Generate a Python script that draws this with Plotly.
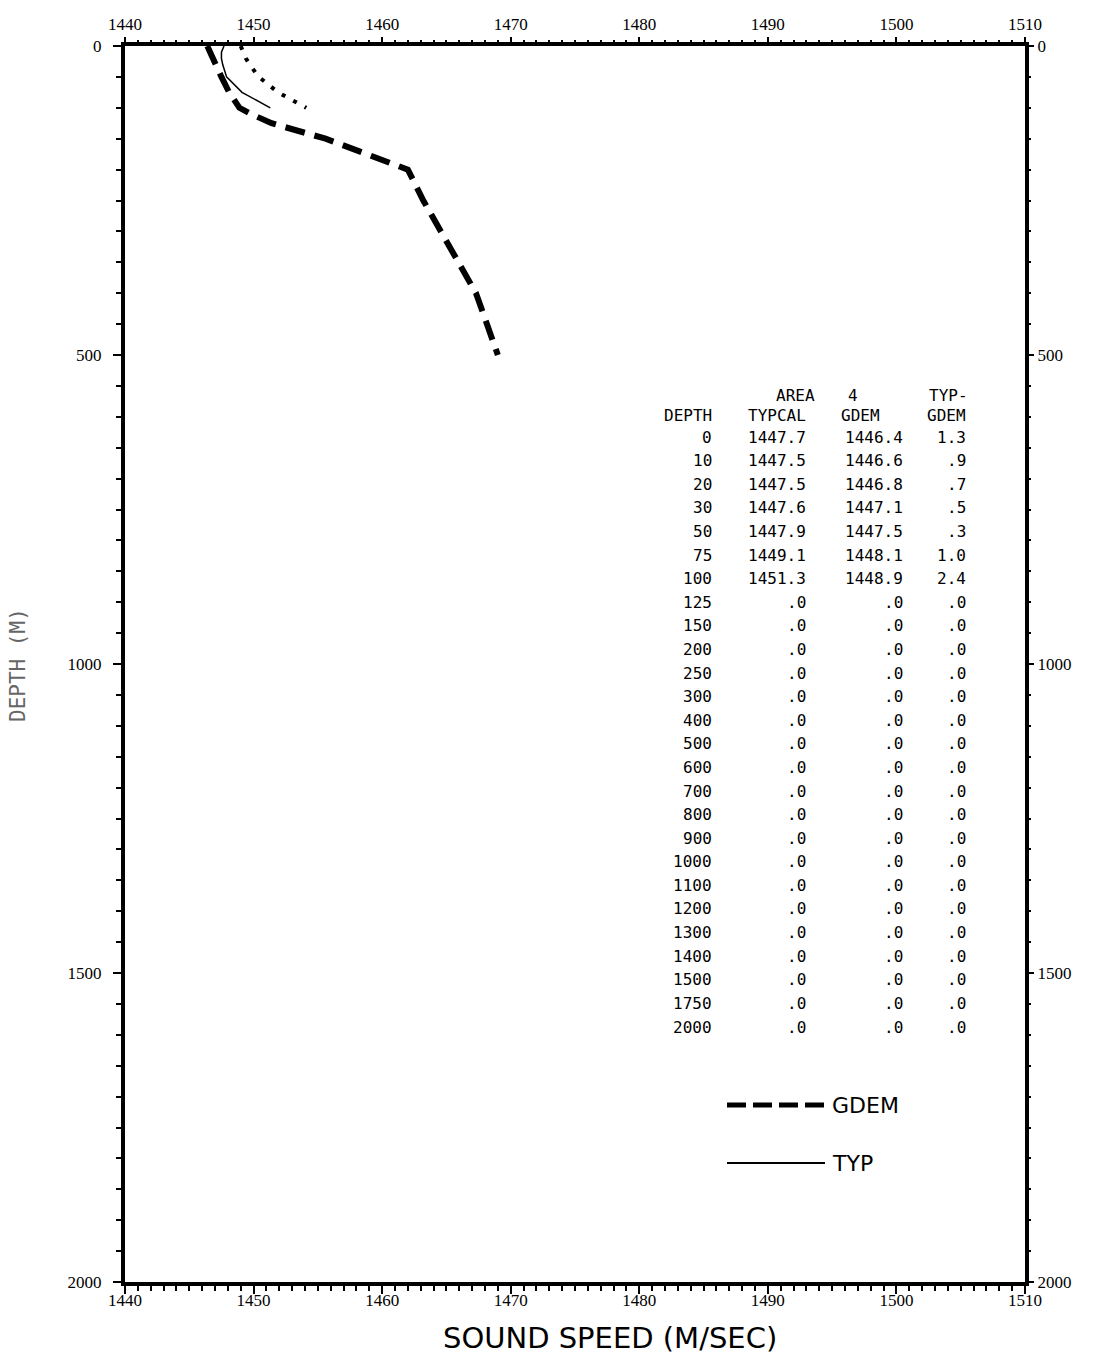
import plotly.graph_objects as go

# ---- profile data: depth (m) vs sound speed (m/s) ----
typ_depth = [0, 10, 20, 30, 50, 75, 100]
typ_speed = [1447.7, 1447.5, 1447.5, 1447.6, 1447.9, 1449.1, 1451.3]

gdem_depth = [0, 10, 20, 30, 50, 75, 100, 110, 125, 150, 200, 250, 300, 400, 500]
gdem_speed = [1446.4, 1446.6, 1446.8, 1447.1, 1447.5, 1448.1, 1448.9, 1449.8,
              1451.4, 1455.6, 1462.0, 1463.2, 1464.6, 1467.3, 1469.0]

dot_depth = [0, 10, 20, 30, 50, 75, 100]
dot_speed = [1449.0, 1449.2, 1449.4, 1449.7, 1450.4, 1451.9, 1454.1]

# ---- tabulated values ----
table_depth = [0, 10, 20, 30, 50, 75, 100, 125, 150, 200, 250, 300, 400, 500,
               600, 700, 800, 900, 1000, 1100, 1200, 1300, 1400, 1500, 1750, 2000]
table_typ = [1447.7, 1447.5, 1447.5, 1447.6, 1447.9, 1449.1, 1451.3] + [0.0] * 19
table_gdem = [1446.4, 1446.6, 1446.8, 1447.1, 1447.5, 1448.1, 1448.9] + [0.0] * 19
table_diff = [1.3, 0.9, 0.7, 0.5, 0.3, 1.0, 2.4] + [0.0] * 19

x_ticks = [1440, 1450, 1460, 1470, 1480, 1490, 1500, 1510]
y_ticks = [0, 500, 1000, 1500, 2000]

W, H = 1094, 1356
ML, MR, MT, MB = 125, 69, 46, 74
PW, PH = W - ML - MR, H - MT - MB


def px(xpix):
    return (xpix - ML) / PW


def py(ypix):
    return 1 - (ypix - MT) / PH


def fmt(v):
    s = f"{v:.1f}"
    return s[1:] if s.startswith("0") else s


fig = go.Figure()

fig.add_trace(go.Scatter(
    x=gdem_speed, y=gdem_depth, mode="lines", name="GDEM",
    line=dict(color="black", width=6, dash="20px,10px"),
    showlegend=False, hoverinfo="skip"))
fig.add_trace(go.Scatter(
    x=typ_speed, y=typ_depth, mode="lines", name="TYP",
    line=dict(color="black", width=1.5),
    showlegend=False, hoverinfo="skip"))
fig.add_trace(go.Scatter(
    x=dot_speed, y=dot_depth, mode="lines", name="dotted",
    line=dict(color="black", width=4, dash="4px,9px"),
    showlegend=False, hoverinfo="skip"))
# companion trace so the top/right axes are drawn
fig.add_trace(go.Scatter(
    x=gdem_speed, y=gdem_depth, xaxis="x2", yaxis="y2", mode="lines",
    line=dict(color="rgba(0,0,0,0)", width=0),
    showlegend=False, hoverinfo="skip"))

tickfont = dict(family="Liberation Serif", size=17, color="black")
common_x = dict(range=[1440, 1510], tickvals=x_ticks, ticks="outside",
                ticklen=8, tickwidth=2, tickcolor="black", tickfont=tickfont,
                showgrid=False, zeroline=False,
                minor=dict(dtick=1, ticks="outside", ticklen=5, tickwidth=1.5,
                           tickcolor="black", showgrid=False))
common_y = dict(range=[2000, 0], tickvals=y_ticks, ticks="outside",
                ticklen=8, tickwidth=2, tickcolor="black", tickfont=tickfont,
                showgrid=False, zeroline=False,
                minor=dict(dtick=50, ticks="outside", ticklen=5, tickwidth=1.5,
                           tickcolor="black", showgrid=False))

fig.update_layout(
    width=W, height=H,
    margin=dict(l=ML, r=MR, t=MT, b=MB),
    paper_bgcolor="white", plot_bgcolor="white",
    xaxis=dict(**common_x, showline=True, linewidth=4, linecolor="black",
               mirror=True, side="bottom", ticklabelstandoff=-8),
    yaxis=dict(**common_y, showline=True, linewidth=4, linecolor="black",
               mirror=True, side="left", ticklabelstandoff=8),
    xaxis2=dict(**common_x, overlaying="x", side="top", showline=False,
                anchor="y"),
    yaxis2=dict(**common_y, overlaying="y", side="right", showline=False,
                anchor="x"),
)

ann = []
mono = dict(family="DejaVu Sans Mono", size=16, color="black")

# table header
ann.append(dict(x=px(795), y=py(395), text="AREA", showarrow=False,
                xanchor="center", yanchor="middle", font=mono))
ann.append(dict(x=px(853), y=py(395), text="4", showarrow=False,
                xanchor="center", yanchor="middle", font=mono))
ann.append(dict(x=px(970), y=py(395), text="TYP-", showarrow=False,
                xanchor="right", yanchor="middle", font=mono))
for txt, xr in [("DEPTH", 714), ("TYPCAL", 808), ("GDEM", 882), ("GDEM", 968)]:
    ann.append(dict(x=px(xr), y=py(415), text=txt, showarrow=False,
                    xanchor="right", yanchor="middle", font=mono))

# table rows
row0, step = 437, 23.6
for i, d in enumerate(table_depth):
    yy = py(row0 + i * step)
    cells = [(str(d), 714), (fmt(table_typ[i]), 808),
             (fmt(table_gdem[i]), 905), (fmt(table_diff[i]), 968)]
    for txt, xr in cells:
        ann.append(dict(x=px(xr), y=yy, text=txt, showarrow=False,
                        xanchor="right", yanchor="middle", font=mono))

# legend
leg_font = dict(family="DejaVu Sans", size=22, color="black")
ann.append(dict(x=px(830), y=py(1105), text="GDEM", showarrow=False,
                xanchor="left", yanchor="middle", font=leg_font))
ann.append(dict(x=px(830), y=py(1163), text="TYP", showarrow=False,
                xanchor="left", yanchor="middle", font=leg_font))

# axis titles
ann.append(dict(x=px(610), y=py(1338), text="SOUND SPEED (M/SEC)",
                showarrow=False, xanchor="center", yanchor="middle",
                font=dict(family="DejaVu Sans", size=29, color="black")))
ann.append(dict(x=px(18), y=py(665), text="DEPTH (M)", textangle=-90,
                showarrow=False, xanchor="center", yanchor="middle",
                font=dict(family="DejaVu Sans Mono", size=21, color="#666")))

for a in ann:
    a.setdefault("xref", "paper")
    a.setdefault("yref", "paper")
fig.update_layout(annotations=ann)

fig.update_layout(shapes=[
    dict(type="line", xref="paper", yref="paper",
         x0=px(727), x1=px(825), y0=py(1105), y1=py(1105),
         line=dict(color="black", width=5, dash="19px,7px")),
    dict(type="line", xref="paper", yref="paper",
         x0=px(727), x1=px(825), y0=py(1163), y1=py(1163),
         line=dict(color="black", width=2)),
])

fig.write_html("out.html")
